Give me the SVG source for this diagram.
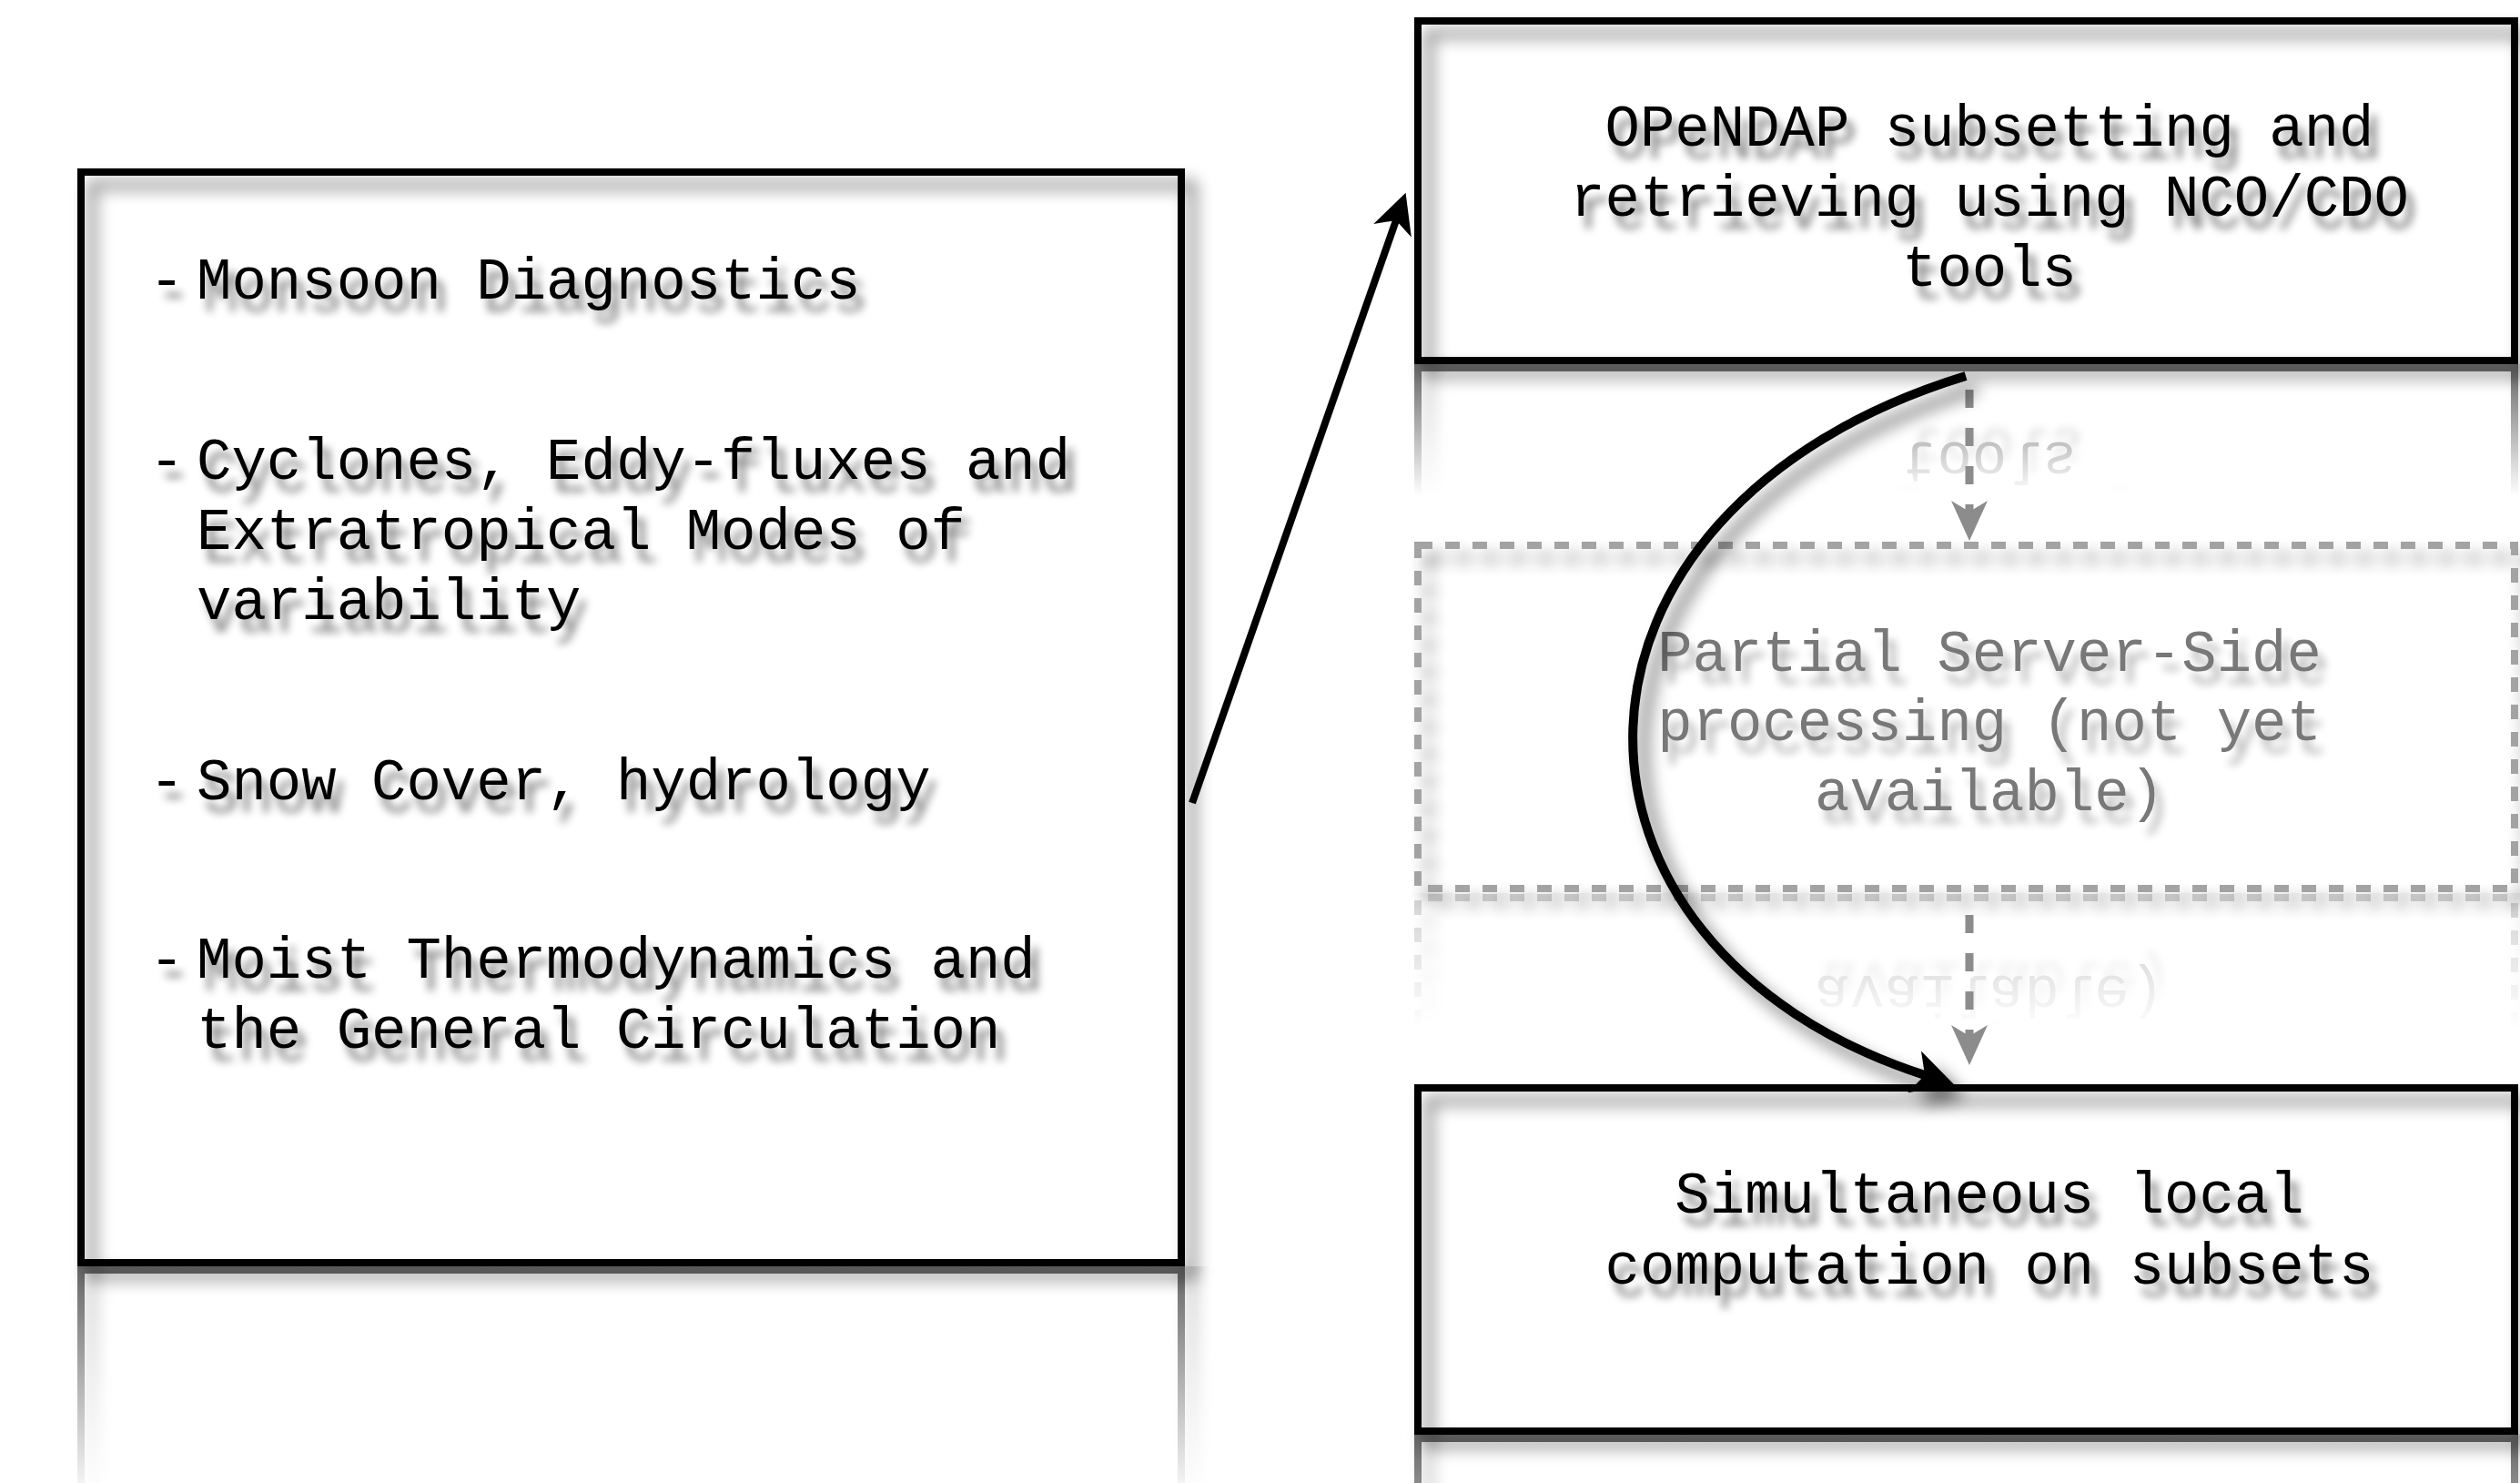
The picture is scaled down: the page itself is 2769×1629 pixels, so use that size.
<svg xmlns="http://www.w3.org/2000/svg" xmlns:xlink="http://www.w3.org/1999/xlink" width="2769" height="1629" viewBox="0 0 2769 1629">
<style>
.box{fill:none;stroke:#000;stroke-width:8}
.dbox{fill:none;stroke:#9a9a9a;stroke-width:8;stroke-dasharray:16 14}
.t{font-family:"Liberation Mono","Courier New",monospace;font-size:64px;fill:#000}
.tg{font-family:"Liberation Mono","Courier New",monospace;font-size:64px;fill:#787878}
.mid{text-anchor:middle}
.arrow{fill:none;stroke:#000;stroke-width:8}
.carrow{fill:none;stroke:#000;stroke-width:10}
.garrow{fill:none;stroke:#8c8c8c;stroke-width:9;stroke-dasharray:20 22}
</style>
<defs>
<filter id="sh" x="-10%" y="-10%" width="125%" height="125%">
<feGaussianBlur in="SourceAlpha" stdDeviation="9"/>
<feOffset dx="12" dy="14" result="b"/>
<feComponentTransfer in="b" result="s"><feFuncA type="linear" slope="0.55"/></feComponentTransfer>
<feMerge><feMergeNode in="s"/><feMergeNode in="SourceGraphic"/></feMerge>
</filter>
<filter id="tsh" x="-10%" y="-30%" width="125%" height="170%">
<feGaussianBlur in="SourceAlpha" stdDeviation="5"/>
<feOffset dx="8" dy="14" result="b"/>
<feComponentTransfer in="b" result="s"><feFuncA type="linear" slope="0.5"/></feComponentTransfer>
<feMerge><feMergeNode in="s"/><feMergeNode in="SourceGraphic"/></feMerge>
</filter>
<filter id="tshg" x="-10%" y="-30%" width="125%" height="170%">
<feGaussianBlur in="SourceAlpha" stdDeviation="5"/>
<feOffset dx="8" dy="14" result="b"/>
<feComponentTransfer in="b" result="s"><feFuncA type="linear" slope="0.3"/></feComponentTransfer>
<feMerge><feMergeNode in="s"/><feMergeNode in="SourceGraphic"/></feMerge>
</filter>
<marker id="ah" markerUnits="userSpaceOnUse" markerWidth="80" markerHeight="60" viewBox="-20 -30 60 60" refX="0" refY="0" orient="auto" overflow="visible">
<path d="M32,0 L-12,-22 L0,0 L-12,22 Z" fill="#000"/>
</marker>
<marker id="cah" markerUnits="userSpaceOnUse" markerWidth="80" markerHeight="60" viewBox="-20 -30 60 60" refX="0" refY="0" orient="auto" overflow="visible">
<path d="M34,0 L-12,-24 L0,0 L-12,24 Z" fill="#000"/>
</marker>
<marker id="gah" markerUnits="userSpaceOnUse" markerWidth="80" markerHeight="60" viewBox="-20 -30 60 60" refX="0" refY="0" orient="auto" overflow="visible">
<path d="M32,0 L-12,-20 L0,0 L-12,20 Z" fill="#8c8c8c"/>
</marker>
<linearGradient id="gTop" gradientUnits="userSpaceOnUse" x1="0" y1="400" x2="0" y2="545"><stop offset="0" stop-color="#fff" stop-opacity="0.6"/><stop offset="1" stop-color="#fff" stop-opacity="0"/></linearGradient>
<linearGradient id="gMid" gradientUnits="userSpaceOnUse" x1="0" y1="981" x2="0" y2="1130"><stop offset="0" stop-color="#fff" stop-opacity="0.5"/><stop offset="1" stop-color="#fff" stop-opacity="0"/></linearGradient>
<linearGradient id="gLeft" gradientUnits="userSpaceOnUse" x1="0" y1="1391" x2="0" y2="1650"><stop offset="0" stop-color="#fff" stop-opacity="0.6"/><stop offset="1" stop-color="#fff" stop-opacity="0"/></linearGradient>
<linearGradient id="gBot" gradientUnits="userSpaceOnUse" x1="0" y1="1576" x2="0" y2="1800"><stop offset="0" stop-color="#fff" stop-opacity="0.6"/><stop offset="1" stop-color="#fff" stop-opacity="0"/></linearGradient>
<mask id="mTop" maskUnits="userSpaceOnUse" x="0" y="400" width="2769" height="195"><rect x="0" y="400" width="2769" height="195" fill="url(#gTop)"/></mask>
<mask id="mMid" maskUnits="userSpaceOnUse" x="0" y="981" width="2769" height="200"><rect x="0" y="981" width="2769" height="200" fill="url(#gMid)"/></mask>
<mask id="mLeft" maskUnits="userSpaceOnUse" x="0" y="1391" width="1500" height="238"><rect x="0" y="1391" width="1500" height="238" fill="url(#gLeft)"/></mask>
<mask id="mBot" maskUnits="userSpaceOnUse" x="1400" y="1576" width="1369" height="60"><rect x="1400" y="1576" width="1369" height="60" fill="url(#gBot)"/></mask>
</defs>
<rect x="0" y="0" width="2769" height="1629" fill="#fff"/>

<g id="reflections">
<g mask="url(#mTop)"><use xlink:href="#node-opendap" href="#node-opendap" transform="matrix(1 0 0 -1 0 800)"/></g>
<g mask="url(#mMid)"><use xlink:href="#node-server" href="#node-server" transform="matrix(1 0 0 -1 0 1962)"/></g>
<g mask="url(#mLeft)"><use xlink:href="#topics-frame" href="#topics-frame" transform="matrix(1 0 0 -1 0 2782)"/></g>
<g mask="url(#mBot)"><use xlink:href="#node-local" href="#node-local" transform="matrix(1 0 0 -1 0 3152)"/></g>
</g>

<g id="node-topics">
<rect id="topics-frame" class="box" x="89" y="189" width="1209" height="1198" filter="url(#sh)"/>
<g filter="url(#tsh)">
<text class="t"><tspan x="164" y="328">-</tspan><tspan x="216" y="328">Monsoon Diagnostics</tspan></text>
<text class="t"><tspan x="164" y="526">-</tspan><tspan x="216" y="526">Cyclones, Eddy-fluxes and</tspan><tspan x="216" y="603">Extratropical Modes of</tspan><tspan x="216" y="680">variability</tspan></text>
<text class="t"><tspan x="164" y="878">-</tspan><tspan x="216" y="878">Snow Cover, hydrology</tspan></text>
<text class="t"><tspan x="164" y="1074">-</tspan><tspan x="216" y="1074">Moist Thermodynamics and</tspan><tspan x="216" y="1151">the General Circulation</tspan></text>
</g>
</g>

<g id="node-opendap">
<rect class="box" x="1558" y="23" width="1205" height="373" filter="url(#sh)"/>
<g filter="url(#tsh)">
<text class="t mid"><tspan x="2186" y="160">OPeNDAP subsetting and</tspan><tspan x="2186" y="237">retrieving using NCO/CDO</tspan><tspan x="2186" y="314">tools</tspan></text>
</g>
</g>

<g id="node-server">
<rect class="dbox" x="1558" y="599" width="1205" height="377" filter="url(#sh)" opacity="0.9"/>
<g filter="url(#tshg)">
<text class="tg mid"><tspan x="2186" y="737">Partial Server-Side</tspan><tspan x="2186" y="813">processing (not yet</tspan><tspan x="2186" y="890">available)</tspan></text>
</g>
</g>

<g id="node-local">
<rect class="box" x="1558" y="1195" width="1205" height="377" filter="url(#sh)"/>
<g filter="url(#tsh)">
<text class="t mid"><tspan x="2186" y="1332">Simultaneous local</tspan><tspan x="2186" y="1410">computation on subsets</tspan></text>
</g>
</g>

<g id="connectors">
<path class="garrow" d="M2164,428 L2164,562" marker-end="url(#gah)"/>
<path class="garrow" d="M2164,1005 L2164,1138" marker-end="url(#gah)"/>
<path class="arrow" d="M1310,882 L1534,242" marker-end="url(#ah)"/>
<g filter="url(#sh)">
<path class="carrow" d="M2160,413 C1680,560 1680,1040 2115,1181" marker-end="url(#cah)"/>
</g>
</g>
</svg>
